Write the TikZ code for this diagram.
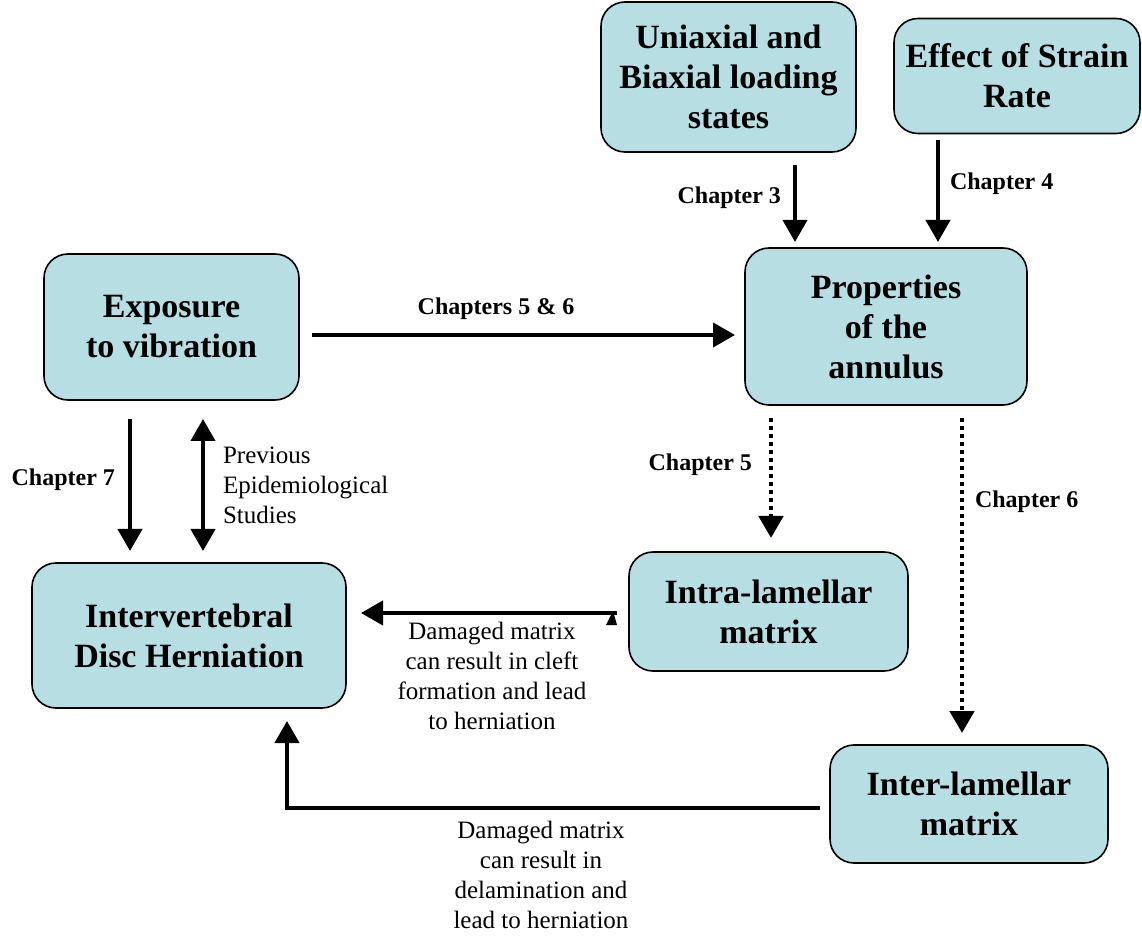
\documentclass[tikz,border=0pt]{standalone}
\usepackage{fontspec}
\setmainfont{Liberation Serif}
\usetikzlibrary{arrows.meta,positioning}
\definecolor{boxblue}{RGB}{183,223,227}

\tikzset{
  box/.style={draw, line width=0.8pt, fill=boxblue, rounded corners=12pt, align=center,
    inner sep=0pt, font=\fontsize{17}{20}\selectfont\bfseries},
  flow/.style={line width=2pt, -{Triangle[length=11pt,width=12pt]}},
  dots/.style={flow, line width=2.4pt, dash pattern=on 2.2pt off 1.8pt},
  chap/.style={font=\fontsize{12}{14}\selectfont\bfseries},
  note/.style={font=\fontsize{12.5}{15}\selectfont, align=center},
}

\begin{document}
\begin{tikzpicture}[x=0.5pt,y=-0.5pt]
	\useasboundingbox (0,0) rectangle (1142,936);
	% boxes
	\node[box, minimum width=127.5pt, minimum height=75pt] (load) at (728.5,77) {Uniaxial and\\Biaxial loading\\states};
	\node[box, minimum width=123pt, minimum height=57.5pt] (rate) at (1017,76) {Effect of Strain\\Rate};
	\node[box, minimum width=141pt, minimum height=78.5pt] (prop) at (886,326.5) {Properties\\of the\\annulus};
	\node[box, minimum width=127.5pt, minimum height=73pt] (expo) at (171.5,327) {Exposure\\to vibration};
	\node[box, minimum width=157pt, minimum height=72.5pt] (idh) at (189,635.5) {Intervertebral\\Disc Herniation};
	\node[box, minimum width=139.5pt, minimum height=59.5pt] (intra) at (768.5,611.5) {Intra-lamellar\\matrix};
	\node[box, minimum width=139pt, minimum height=59pt] (inter) at (969,804) {Inter-lamellar\\matrix};

	% arrow ends
	\coordinate (c3a) at (795,165);
	\coordinate (c3b) at (795,242);
	\coordinate (c4a) at (938,140);
	\coordinate (c4b) at (938,242);
	\coordinate (c56a) at (312,335);
	\coordinate (c56b) at (735,335);
	\coordinate (c5a) at (771,418);
	\coordinate (c5b) at (771,538);
	\coordinate (c6a) at (962,418);
	\coordinate (c6b) at (962,733);
	\coordinate (c7a) at (130,419);
	\coordinate (c7b) at (130,551);
	\coordinate (epia) at (203,419);
	\coordinate (epib) at (203,551);
	\coordinate (clefta) at (617,613);
	\coordinate (cleftb) at (361,613);
	\coordinate (dela) at (820,808);
	\coordinate (delc) at (287,808);
	\coordinate (delb) at (287,721);

	% connectors
	\draw[flow] (c3a) -- (c3b);
	\draw[flow] (c4a) -- (c4b);
	\draw[flow] (c56a) -- (c56b);
	\draw[dots] (c5a) -- (c5b);
	\draw[dots] (c6a) -- (c6b);
	\draw[flow] (c7a) -- (c7b);
	\draw[line width=2pt, {Triangle[length=11pt,width=12pt]}-{Triangle[length=11pt,width=12pt]}] (epia) -- (epib);
	\draw[flow] (clefta) -- (cleftb);
	\fill (clefta) ++(-11,12) -- ++(11,0) -- ++(-4,-14) -- cycle;
	\draw[flow] (dela) -- (delc) -- (delb);

	% labels
	\node[chap, anchor=east] (l3) at (788,198) {Chapter 3};
	\node[chap, anchor=west] (l4) at (943,184) {Chapter 4};
	\node[chap] (l56) at (496,309) {Chapters 5 \& 6};
	\node[chap, anchor=east] (l5) at (759,465) {Chapter 5};
	\node[chap, anchor=west] (l6) at (968,502) {Chapter 6};
	\node[chap, anchor=east] (l7) at (122,480) {Chapter 7};
	\node[note, align=left, anchor=west] (lepi) at (216,485) {Previous\\Epidemiological\\Studies};
	\node[note] (lcleft) at (492,676) {Damaged matrix\\can result in cleft\\formation and lead\\to herniation};
	\node[note] (ldel) at (541,875) {Damaged matrix\\can result in\\delamination and\\lead to herniation};
\end{tikzpicture}
\end{document}
